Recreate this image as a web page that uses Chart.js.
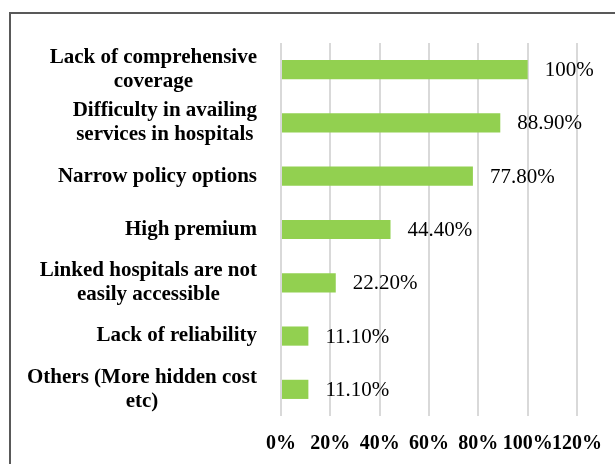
<!DOCTYPE html>
<html>
<head>
<meta charset="utf-8">
<script src="https://cdn.jsdelivr.net/npm/chart.js@4"></script>
<style>
  html, body { margin: 0; padding: 0; background: #fff; overflow: hidden; }
  #frame { position: absolute; left: 9px; top: 12px; width: 800px; height: 700px;
           border-left: 2px solid #595959; border-top: 2px solid #595959; }
  #wrap { position: absolute; left: 0; top: 0; width: 615px; height: 464px; }
</style>
</head>
<body>
<div id="frame"></div>
<div id="wrap"><canvas id="chart"></canvas></div>
<script>
// categories (each split into the lines shown in the picture)
const categories = [
  ['Lack of comprehensive', 'coverage'],
  ['Difficulty in availing', 'services in hospitals'],
  ['Narrow policy options'],
  ['High premium'],
  ['Linked hospitals are not', 'easily accessible'],
  ['Lack of reliability'],
  ['Others (More hidden cost', 'etc)']
];
const values = [100, 88.9, 77.8, 44.4, 22.2, 11.1, 11.1];
const valueLabels = ['100%', '88.90%', '77.80%', '44.40%', '22.20%', '11.10%', '11.10%'];
const tickMax = 120;
const tickStep = 20;

const serif = "'Liberation Serif', 'Times New Roman', serif";

// category labels: block right-aligned to the axis, lines centred inside the block
const categoryLabels = {
  id: 'categoryLabels',
  afterDraw(chart) {
    const ctx = chart.ctx;
    const y = chart.scales.y;
    const right = chart.chartArea.left - 24;
    const lineH = 24;
    ctx.save();
    ctx.font = 'bold 21px ' + serif;
    ctx.fillStyle = '#000';
    ctx.textAlign = 'center';
    ctx.textBaseline = 'middle';
    categories.forEach((lines, i) => {
      const w = Math.max(...lines.map(l => ctx.measureText(l).width));
      const cx = right - w / 2;
      const cy = y.getPixelForTick(i);
      lines.forEach((l, j) => {
        ctx.fillText(l, cx, cy + (j - (lines.length - 1) / 2) * lineH);
      });
    });
    ctx.restore();
  }
};

// value labels at the end of each bar
const valueLabelPlugin = {
  id: 'valueLabels',
  afterDatasetsDraw(chart) {
    const ctx = chart.ctx;
    const meta = chart.getDatasetMeta(0);
    ctx.save();
    ctx.font = '21px ' + serif;
    ctx.fillStyle = '#000';
    ctx.textAlign = 'left';
    ctx.textBaseline = 'middle';
    meta.data.forEach((bar, i) => {
      ctx.fillText(valueLabels[i], bar.x + 17, bar.y + 1);
    });
    ctx.restore();
  }
};

new Chart(document.getElementById('chart'), {
  type: 'bar',
  data: {
    labels: categories.map(c => c.join(' ')),
    datasets: [{
      data: values,
      backgroundColor: '#92d050',
      borderWidth: 0,
      categoryPercentage: 1,
      barPercentage: 0.36
    }]
  },
  options: {
    indexAxis: 'y',
    responsive: true,
    maintainAspectRatio: false,
    animation: false,
    layout: { padding: { top: 43, right: 38, bottom: 0, left: 0 } },
    plugins: { legend: { display: false }, tooltip: { enabled: false } },
    scales: {
      x: {
        min: 0,
        max: tickMax,
        ticks: {
          stepSize: tickStep,
          padding: 16,
          autoSkip: false,
          maxRotation: 0,
          minRotation: 0,
          color: '#000',
          font: { family: serif, size: 20, weight: 'bold' },
          callback: v => v + '%'
        },
        grid: { color: '#d9d9d9', lineWidth: 2, drawTicks: false },
        border: { display: false },
        afterFit: s => { s.height = 48; s.paddingLeft = 0; s.paddingRight = 0; }
      },
      y: {
        ticks: { display: false },
        grid: { display: false },
        border: { display: false },
        afterFit: s => { s.width = 281; }
      }
    }
  },
  plugins: [categoryLabels, valueLabelPlugin]
});
</script>
</body>
</html>
